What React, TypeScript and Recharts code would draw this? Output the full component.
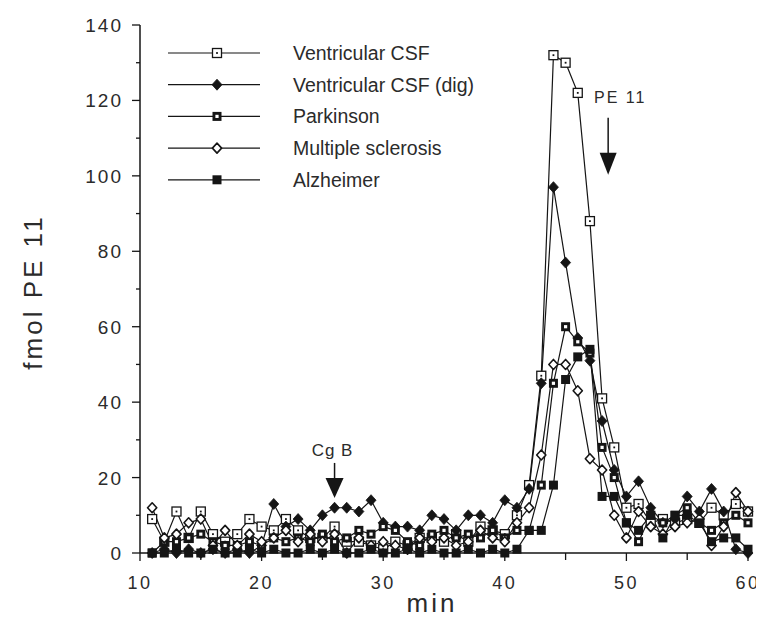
import React from 'react';
import { LineChart, Line, XAxis, YAxis, ReferenceDot } from 'recharts';

const minutes = [11, 12, 13, 14, 15, 16, 17, 18, 19, 20, 21, 22, 23, 24, 25, 26, 27, 28, 29, 30, 31, 32, 33, 34, 35, 36, 37, 38, 39, 40, 41, 42, 43, 44, 45, 46, 47, 48, 49, 50, 51, 52, 53, 54, 55, 56, 57, 58, 59, 60];

const ventricularCSF = [9, 3, 11, 4, 11, 5, 3, 5, 9, 7, 6, 9, 6, 4, 4, 7, 3, 3, 2, 1, 3, 2, 4, 4, 3, 5, 3, 7, 6, 5, 10, 18, 47, 132, 130, 122, 88, 41, 28, 12, 13, 8, 9, 8, 9, 8, 12, 10, 13, 11];
const ventricularDig = [0, 1, 0, 1, 0, 1, 0, 1, 0, 2, 13, 7, 9, 6, 10, 12, 12, 11, 14, 8, 7, 7, 6, 10, 9, 6, 10, 10, 8, 14, 12, 17, 45, 97, 77, 57, 51, 35, 22, 15, 19, 12, 8, 9, 15, 11, 17, 11, 1, 0];
const parkinson = [0, 3, 3, 4, 5, 3, 2, 2, 3, 2, 4, 3, 4, 3, 5, 3, 4, 6, 5, 7, 6, 3, 2, 5, 6, 4, 5, 4, 6, 4, 6, 6, 18, 45, 60, 56, 53, 28, 20, 8, 3, 10, 8, 10, 12, 8, 6, 8, 10, 8];
const multipleSclerosis = [12, 4, 5, 8, 9, 2, 6, 2, 5, 3, 4, 6, 3, 5, 3, 5, 0, 4, 2, 3, 2, 1, 4, 3, 4, 2, 3, 6, 4, 3, 8, 12, 26, 50, 50, 43, 25, 22, 10, 4, 11, 7, 5, 7, 8, 9, 2, 7, 16, 11];
const alzheimer = [0, 0, 1, 0, 0, 1, 0, 0, 1, 0, 1, 0, 0, 1, 0, 1, 0, 0, 1, 0, 0, 1, 0, 1, 0, 0, 1, 0, 1, 0, 1, 6, 6, 18, 46, 52, 54, 15, 15, 8, 6, 10, 4, 10, 10, 8, 3, 4, 4, 1];

const xTicks = [10, 15, 20, 25, 30, 35, 40, 45, 50, 55, 60];
const yTicks = [0, 10, 20, 30, 40, 50, 60, 70, 80, 90, 100, 110, 120, 130, 140];

const seriesNames = ['Ventricular CSF', 'Ventricular CSF (dig)', 'Parkinson', 'Multiple sclerosis', 'Alzheimer'];
const seriesKeys = ['vent', 'dig', 'park', 'ms', 'alz'];
const seriesMarkers = ['openSquare', 'filledDiamond', 'thickSquare', 'openDiamond', 'filledSquare'];

const data = minutes.map((t, i) => ({
  t,
  vent: ventricularCSF[i],
  dig: ventricularDig[i],
  park: parkinson[i],
  ms: multipleSclerosis[i],
  alz: alzheimer[i],
}));

const FONT = '"Liberation Sans", Arial, Helvetica, sans-serif';
const INK = '#151515';
const TEXT = '#2b2b2b';

function Marker({ kind, cx, cy }: { kind: string; cx: number; cy: number }) {
  const s = 4.5;
  switch (kind) {
    case 'openSquare':
      return (
        <g>
          <rect x={cx - s} y={cy - s} width={2 * s} height={2 * s} fill="#fff" stroke={INK} strokeWidth={1.3} />
          <rect x={cx - 0.9} y={cy - 0.9} width={1.8} height={1.8} fill={INK} />
        </g>
      );
    case 'filledDiamond':
      return <polygon points={`${cx},${cy - 5.5} ${cx + 5},${cy} ${cx},${cy + 5.5} ${cx - 5},${cy}`} fill={INK} stroke={INK} strokeWidth={0.8} />;
    case 'thickSquare':
      return (
        <g>
          <rect x={cx - s} y={cy - s} width={2 * s} height={2 * s} fill={INK} />
          <rect x={cx - 1.6} y={cy - 1.6} width={3.2} height={3.2} fill="#fff" />
        </g>
      );
    case 'openDiamond':
      return <polygon points={`${cx},${cy - 5} ${cx + 4.6},${cy} ${cx},${cy + 5} ${cx - 4.6},${cy}`} fill="#fff" stroke={INK} strokeWidth={1.6} strokeLinejoin="round" />;
    default:
      return <rect x={cx - s} y={cy - s} width={2 * s} height={2 * s} fill={INK} />;
  }
}

const makeDot = (kind: string) => (props: any) => {
  const { cx, cy, index } = props;
  if (cx == null || cy == null) return <g key={`n-${index}`} />;
  return (
    <g key={`${kind}-${index}`}>
      <Marker kind={kind} cx={cx} cy={cy} />
    </g>
  );
};

const XTick = (props: any) => {
  const { x, y, payload } = props;
  const v = payload.value;
  const major = v % 10 === 0;
  return (
    <g>
      <line x1={x} y1={y} x2={x} y2={y + (major ? 8 : 7)} stroke={INK} strokeWidth={1.3} />
      {major && (
        <text x={x} y={y + 36} textAnchor="middle" fontFamily={FONT} fontSize={18} letterSpacing={2.5} fill={TEXT}>
          {v}
        </text>
      )}
    </g>
  );
};

const YTick = (props: any) => {
  const { x, y, payload } = props;
  const v = payload.value;
  const major = v % 20 === 0;
  return (
    <g>
      <line x1={x - (major ? 8 : 4)} y1={y} x2={x} y2={y} stroke={INK} strokeWidth={1.3} />
      {major && (
        <text x={x - 17} y={y + 7} textAnchor="end" fontFamily={FONT} fontSize={19} letterSpacing={2} fill={TEXT}>
          {v}
        </text>
      )}
    </g>
  );
};

const CgBArrow = (props: any) => {
  const { cx, cy } = props;
  return (
    <g>
      <text x={cx - 2} y={cy - 42} textAnchor="middle" fontFamily={FONT} fontSize={17} letterSpacing={1} fill={TEXT}>
        Cg B
      </text>
      <line x1={cx} y1={cy - 35} x2={cx} y2={cy - 18} stroke={INK} strokeWidth={1.5} />
      <polygon points={`${cx - 9},${cy - 20} ${cx + 9},${cy - 20} ${cx},${cy}`} fill={INK} />
    </g>
  );
};

const PEArrow = (props: any) => {
  const { cx, cy } = props;
  return (
    <g>
      <text x={cx + 12} y={cy - 72} textAnchor="middle" fontFamily={FONT} fontSize={16} letterSpacing={2} fill={TEXT}>
        PE 11
      </text>
      <line x1={cx} y1={cy - 57} x2={cx} y2={cy - 20} stroke={INK} strokeWidth={1.5} />
      <polygon points={`${cx - 8.5},${cy - 22} ${cx + 8.5},${cy - 22} ${cx},${cy}`} fill={INK} />
    </g>
  );
};

const YLabel = () => (
  <text
    x={0}
    y={0}
    transform="translate(42, 292) rotate(-90)"
    textAnchor="middle"
    fontFamily={FONT}
    fontSize={26}
    letterSpacing={3}
    fill={TEXT}
  >
    fmol PE 11
  </text>
);

const XLabel = () => (
  <text x={432} y={612} textAnchor="middle" fontFamily={FONT} fontSize={26} letterSpacing={3} fill={TEXT}>
    min
  </text>
);

function LegendBox() {
  return (
    <svg width={400} height={170} style={{ position: 'absolute', left: 168, top: 36, overflow: 'visible' }}>
      {seriesNames.map((name, i) => {
        const y = 17 + i * 31.7;
        return (
          <g key={name}>
            <line x1={0} y1={y} x2={92} y2={y} stroke={INK} strokeWidth={1.2} />
            <Marker kind={seriesMarkers[i]} cx={49} cy={y} />
            <text x={125} y={y + 7} fontFamily={FONT} fontSize={19.5} fill={TEXT}>
              {name}
            </text>
          </g>
        );
      })}
    </svg>
  );
}

export default function App() {
  return (
    <div style={{ position: 'relative', width: 764, height: 633, margin: '-8px', overflow: 'hidden' }}>
      <LineChart width={764} height={633} data={data} margin={{ top: 25, right: 16, bottom: 0, left: 0 }}>
        <XAxis
          dataKey="t"
          type="number"
          domain={[10, 60]}
          ticks={xTicks}
          tick={<XTick />}
          tickLine={false}
          tickSize={0}
          tickMargin={0}
          height={80}
          axisLine={{ stroke: INK, strokeWidth: 1.5 }}
          label={{ content: <XLabel /> } as any}
          interval={0}
        />
        <YAxis
          type="number"
          domain={[0, 140]}
          ticks={yTicks}
          tick={<YTick />}
          tickLine={false}
          tickSize={0}
          tickMargin={0}
          width={140}
          axisLine={{ stroke: INK, strokeWidth: 1.5 }}
          label={{ content: <YLabel /> } as any}
          interval={0}
        />
        {seriesKeys.map((k, i) => (
          <Line
            key={k}
            type="linear"
            dataKey={k}
            name={seriesNames[i]}
            stroke={INK}
            strokeWidth={1.2}
            dot={makeDot(seriesMarkers[i])}
            activeDot={false}
            isAnimationActive={false}
          />
        ))}
        <ReferenceDot x={26} y={14.6} r={0} shape={<CgBArrow />} />
        <ReferenceDot x={48.5} y={100.3} r={0} shape={<PEArrow />} />
      </LineChart>
      <LegendBox />
    </div>
  );
}
